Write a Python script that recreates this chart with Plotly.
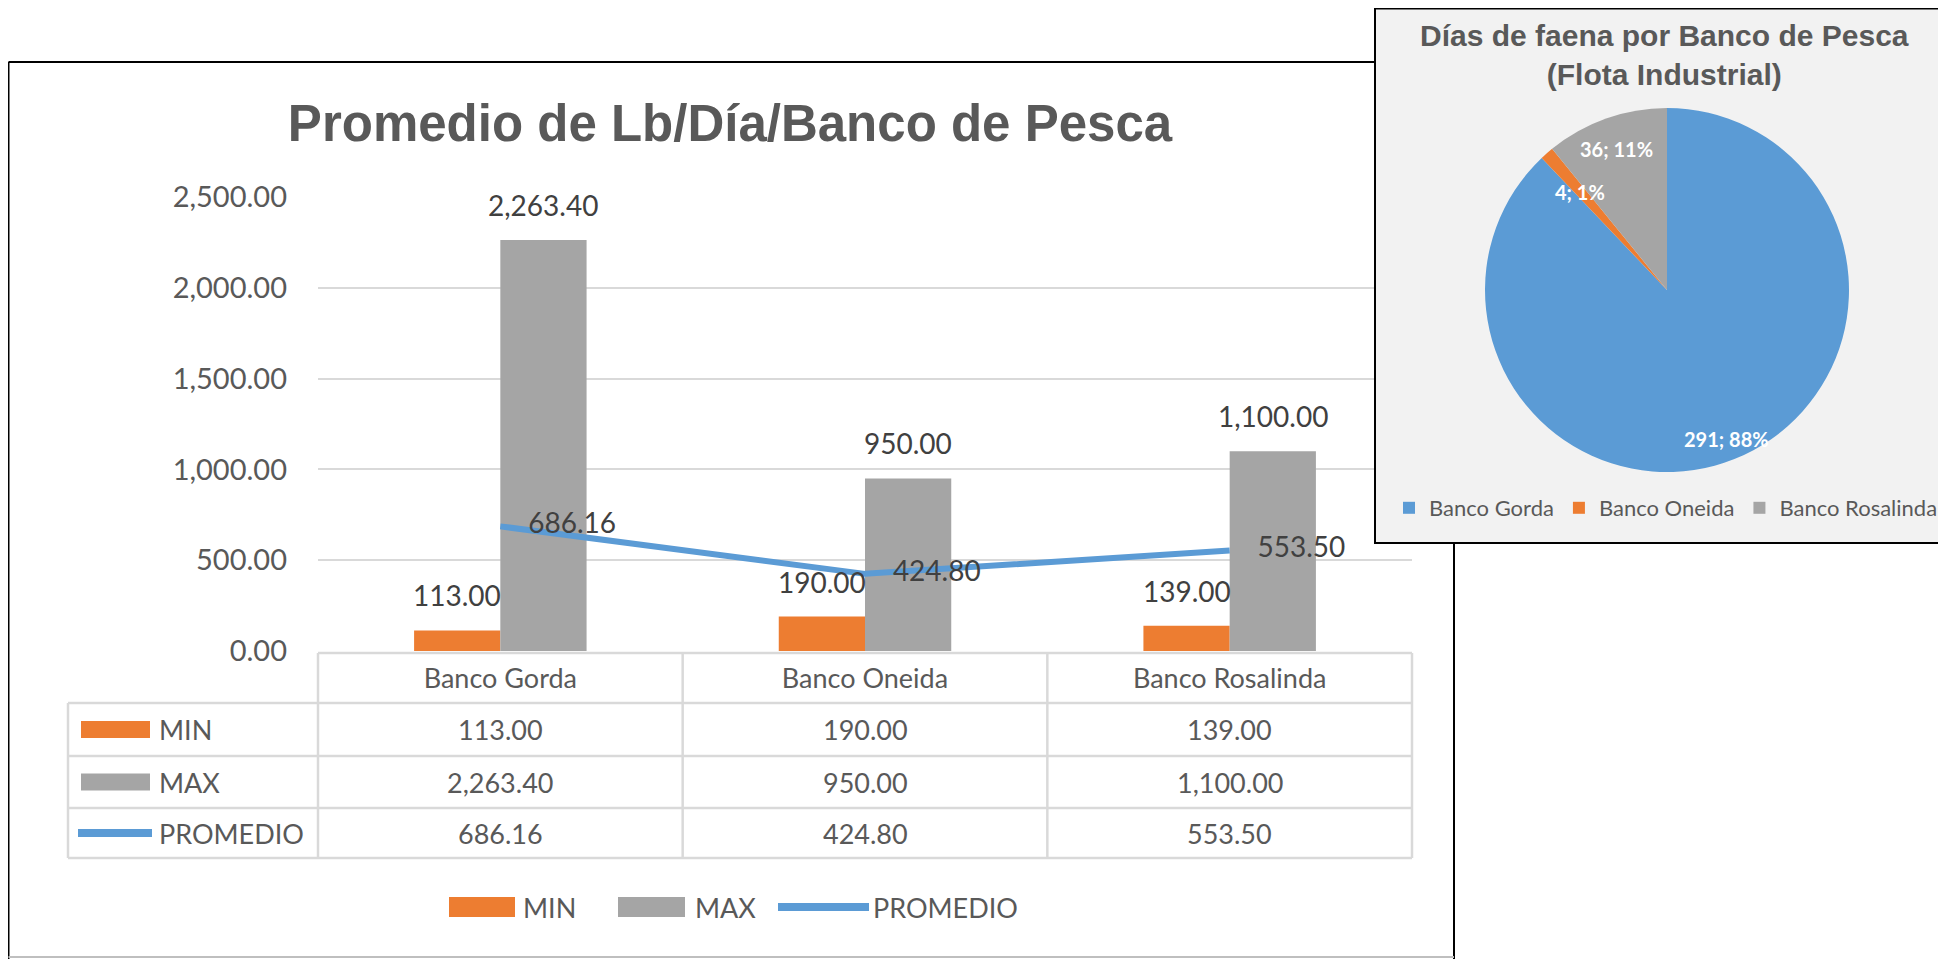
import math
import plotly.graph_objects as go

# ---- data ----
categories = ["Banco Gorda", "Banco Oneida", "Banco Rosalinda"]
series_names = ["MIN", "MAX", "PROMEDIO"]
min_values = [113.00, 190.00, 139.00]
max_values = [2263.40, 950.00, 1100.00]
avg_values = [686.16, 424.80, 553.50]
y_ticks = [0, 500, 1000, 1500, 2000, 2500]

pie_labels = ["Banco Gorda", "Banco Oneida", "Banco Rosalinda"]
pie_days = [291, 4, 36]

# ---- look ----
# the page body has an 8px margin, so the figure is drawn 8px in from the window corner
OFF = 8
W, H = 1946 - OFF, 959 - OFF
ORANGE, GRAY, BLUE = "#ED7D31", "#A5A5A5", "#5B9BD5"
GRID = "#D9D9D9"
TXT = "#595959"
LABEL = "#404040"
BODY = "Lato, Carlito, Calibri, sans-serif"
HEAD = "Arial, Liberation Sans, sans-serif"

# plot area in window pixels
PLOT_L, PLOT_R, PLOT_T, PLOT_B = 318, 1412, 197, 651
BARGAP = 0.527
TABLE_L = 68
ROW_EDGES = [653, 703, 756, 808, 858]


def fx(px):
    return max(px - OFF, 0.5) / W


def fy(py):
    return 1 - max(py - OFF, 0.5) / H


fig = go.Figure()

fig.add_trace(go.Bar(x=categories, y=min_values, name=series_names[0],
                     marker=dict(color=ORANGE, line=dict(width=0)), showlegend=False))
fig.add_trace(go.Bar(x=categories, y=max_values, name=series_names[1],
                     marker=dict(color=GRAY, line=dict(width=0)), showlegend=False))
fig.add_trace(go.Scatter(x=categories, y=avg_values, name=series_names[2],
                         mode="lines+markers+text",
                         line=dict(color=BLUE, width=6),
                         marker=dict(size=43, color="rgba(0,0,0,0)"),
                         text=[f"{v:,.2f}" for v in avg_values],
                         textposition="middle right",
                         textfont=dict(family=BODY, size=28, color=LABEL),
                         cliponaxis=False, showlegend=False))

# empty helper subplot that holds the pie card background
fig.add_trace(go.Scatter(x=[None], y=[None], xaxis="x2", yaxis="y2",
                         showlegend=False, hoverinfo="skip"))

pie_cx, pie_cy, pie_r = 1667, 290, 182
fig.add_trace(go.Pie(labels=pie_labels, values=pie_days, sort=False,
                     direction="clockwise", rotation=0,
                     marker=dict(colors=[BLUE, ORANGE, GRAY], line=dict(width=0)),
                     textinfo="none",
                     domain=dict(x=[fx(pie_cx - pie_r), fx(pie_cx + pie_r)],
                                 y=[fy(pie_cy + pie_r), fy(pie_cy - pie_r)]),
                     showlegend=True, hoverinfo="label+value+percent"))

shapes = []
annotations = []

# bar value labels, a bit higher above the bars than plotly's own outside text
half_bar = (PLOT_R - PLOT_L) / len(categories) * (1 - BARGAP) / 4
for vals, shift in [(min_values, -half_bar), (max_values, half_bar)]:
    for cat, v in zip(categories, vals):
        annotations.append(dict(x=cat, y=v, xref="x", yref="y", text=f"{v:,.2f}",
                                xshift=shift, yshift=35, showarrow=False,
                                xanchor="center", yanchor="middle",
                                font=dict(family=BODY, size=28, color=LABEL)))

# pie labels "days; share" along each slice's middle angle (drawn on top, so the
# thin Oneida slice label is not covered by the next slice)
label_r = [0.88, 0.72, 0.82]
total = sum(pie_days)
start = 0
for v, rr in zip(pie_days, label_r):
    mid = 2 * math.pi * (start + v / 2) / total
    ax = pie_cx + rr * pie_r * math.sin(mid)
    ay = pie_cy - rr * pie_r * math.cos(mid)
    annotations.append(dict(x=fx(ax), y=fy(ay), xref="paper", yref="paper",
                            text=f"{v}; {v / total:.0%}", showarrow=False,
                            xanchor="center", yanchor="middle",
                            font=dict(family=BODY, size=20, color="white", weight="bold")))
    start += v

# outer frame of the bar chart
for (x0, y0, x1, y1, c) in [(6, 62, 1454, 62, "black"), (6, 62, 6, 959, "black"),
                            (1454, 62, 1454, 959, "black"), (6, 957, 1454, 957, "#BFBFBF")]:
    shapes.append(dict(type="line", xref="paper", yref="paper",
                       x0=fx(x0), y0=fy(y0), x1=fx(x1), y1=fy(y1),
                       line=dict(color=c, width=2), layer="below"))

# data table under the chart
col_edges = [PLOT_L + (PLOT_R - PLOT_L) * k / len(categories) for k in range(len(categories) + 1)]
shapes.append(dict(type="line", xref="paper", yref="paper", x0=fx(PLOT_L), x1=fx(PLOT_R),
                   y0=fy(ROW_EDGES[0]), y1=fy(ROW_EDGES[0]), line=dict(color=GRID, width=2.5)))
for ye in ROW_EDGES[1:]:
    shapes.append(dict(type="line", xref="paper", yref="paper", x0=fx(TABLE_L), x1=fx(PLOT_R),
                       y0=fy(ye), y1=fy(ye), line=dict(color=GRID, width=2.5)))
shapes.append(dict(type="line", xref="paper", yref="paper", x0=fx(TABLE_L), x1=fx(TABLE_L),
                   y0=fy(ROW_EDGES[1]), y1=fy(ROW_EDGES[-1]), line=dict(color=GRID, width=2.5)))
for xe in col_edges:
    shapes.append(dict(type="line", xref="paper", yref="paper", x0=fx(xe), x1=fx(xe),
                       y0=fy(ROW_EDGES[0]), y1=fy(ROW_EDGES[-1]), line=dict(color=GRID, width=2.5)))

rows = [min_values, max_values, avg_values]
swatch = [("rect", ORANGE), ("rect", GRAY), ("line", BLUE)]
for r, (name, vals) in enumerate(zip(series_names, rows)):
    yc = (ROW_EDGES[r + 1] + ROW_EDGES[r + 2]) / 2
    kind, col = swatch[r]
    if kind == "rect":
        shapes.append(dict(type="rect", xref="paper", yref="paper",
                           x0=fx(81), x1=fx(150), y0=fy(yc + 8.5), y1=fy(yc - 8.5),
                           fillcolor=col, line=dict(width=0)))
    else:
        shapes.append(dict(type="line", xref="paper", yref="paper",
                           x0=fx(78), x1=fx(152), y0=fy(yc), y1=fy(yc),
                           line=dict(color=col, width=8)))
    annotations.append(dict(x=fx(157), y=fy(yc), xref="paper", yref="paper", text=name,
                            showarrow=False, xanchor="left", yanchor="middle",
                            font=dict(family=BODY, size=27, color=TXT)))
    for cat, v in zip(categories, vals):
        annotations.append(dict(x=cat, y=fy(yc), xref="x", yref="paper", text=f"{v:,.2f}",
                                showarrow=False, xanchor="center", yanchor="middle",
                                font=dict(family=BODY, size=27, color=TXT)))

# legend of the bar chart
leg_y = 907
leg_items = [(449, 515, 521, "rect", ORANGE), (618, 685, 693, "rect", GRAY),
             (778, 869, 871, "line", BLUE)]
for name, (s0, s1, tx, kind, col) in zip(series_names, leg_items):
    if kind == "rect":
        shapes.append(dict(type="rect", xref="paper", yref="paper",
                           x0=fx(s0), x1=fx(s1), y0=fy(leg_y + 10), y1=fy(leg_y - 10),
                           fillcolor=col, line=dict(width=0)))
    else:
        shapes.append(dict(type="line", xref="paper", yref="paper",
                           x0=fx(s0), x1=fx(s1), y0=fy(leg_y), y1=fy(leg_y),
                           line=dict(color=col, width=8)))
    annotations.append(dict(x=fx(tx), y=fy(leg_y), xref="paper", yref="paper", text=name,
                            showarrow=False, xanchor="left", yanchor="middle",
                            font=dict(family=BODY, size=27, color=TXT)))

# pie card: background in its own subplot so it sits above the bar gridlines
shapes.append(dict(type="rect", xref="x2", yref="y2", x0=0, x1=1, y0=0, y1=1,
                   fillcolor="#F2F2F2", line=dict(width=0), layer="below"))
shapes.append(dict(type="rect", xref="paper", yref="paper",
                   x0=fx(1375), x1=fx(1944), y0=fy(543), y1=fy(7),
                   line=dict(color="black", width=2), fillcolor="rgba(0,0,0,0)", layer="above"))
annotations.append(dict(x=fx(1664), y=fy(55), xref="paper", yref="paper",
                        text="Días de faena por Banco de Pesca<br>(Flota Industrial)",
                        showarrow=False, xanchor="center", yanchor="middle",
                        font=dict(family=HEAD, size=30, color=TXT, weight="bold")))

fig.update_layout(
    width=W, height=H, autosize=False,
    margin=dict(l=0, r=0, t=0, b=0),
    paper_bgcolor="white", plot_bgcolor="rgba(0,0,0,0)",
    barmode="group", bargap=BARGAP, bargroupgap=0,
    title=dict(text="<b>Promedio de Lb/Día/Banco de Pesca</b>", x=fx(730), y=fy(123),
               xref="paper", yref="paper", xanchor="center", yanchor="middle",
               font=dict(family=HEAD, size=51, color=TXT)),
    xaxis=dict(domain=[fx(PLOT_L), fx(PLOT_R)], anchor="y", type="category",
               range=[-0.5, 2.5], showgrid=False, zeroline=False, showline=False,
               ticks="", ticklabelstandoff=9, automargin=False,
               tickfont=dict(family=BODY, size=27, color=TXT)),
    yaxis=dict(domain=[fy(PLOT_B), fy(PLOT_T)], anchor="x", range=[0, 2500],
               tickvals=y_ticks, tickformat=",.2f", showgrid=True,
               gridcolor=GRID, gridwidth=2, zeroline=False, showline=False,
               ticks="", ticklabelstandoff=30, automargin=False,
               tickfont=dict(family=BODY, size=29, color=TXT)),
    xaxis2=dict(domain=[fx(1375), fx(1944)], anchor="y2", range=[0, 1], visible=False),
    yaxis2=dict(domain=[fy(543), fy(7)], anchor="x2", range=[0, 1], visible=False),
    legend=dict(orientation="h", x=fx(1666), y=fy(508), xanchor="center", yanchor="middle",
                bgcolor="rgba(0,0,0,0)", font=dict(family=BODY, size=22, color=TXT),
                itemclick=False),
    shapes=shapes,
    annotations=annotations,
)

fig.write_html("out.html")
